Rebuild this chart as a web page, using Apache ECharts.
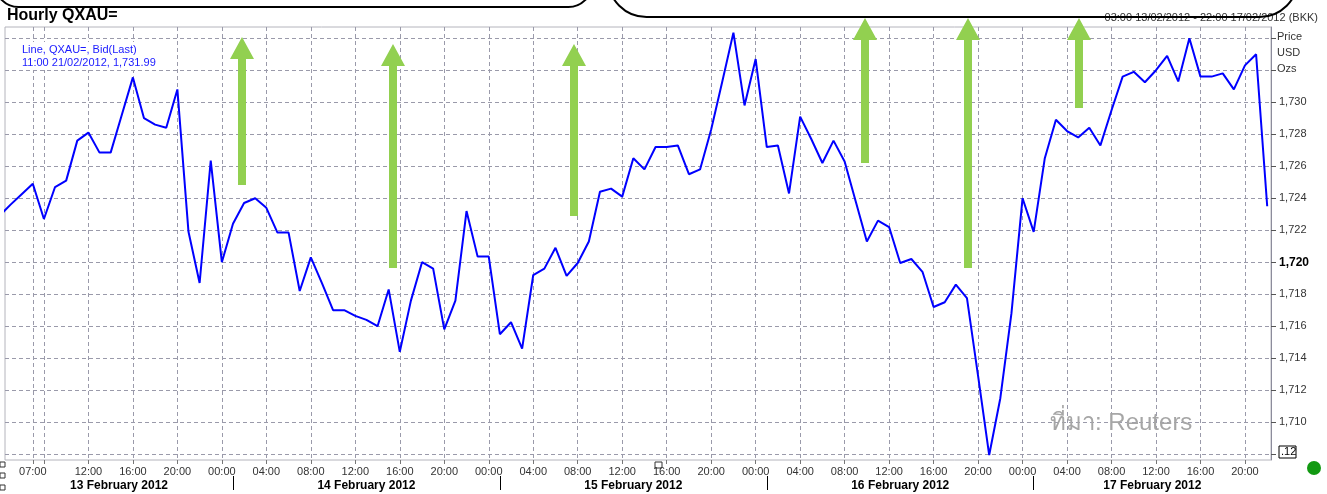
<!DOCTYPE html>
<html>
<head>
<meta charset="utf-8">
<title>Hourly QXAU=</title>
<script src="https://cdn.jsdelivr.net/npm/echarts@6.0.0/dist/echarts.min.js"></script>
<style>
  html, body { margin: 0; padding: 0; background: #fff; }
  #chart { width: 1327px; height: 494px; }
</style>
</head>
<body>
<div id="chart"></div>
<script>
// hourly bid prices, x = hours since 13/02/2012 00:00 (BKK)
const firstHour = 4;
const feb13 = [1722.9, 1723.6, 1724.25, 1724.9, 1722.7, 1724.7, 1725.1, 1727.6, 1728.1, 1726.85,
  1726.85, 1729.2, 1731.55, 1729.0, 1728.6, 1728.4, 1730.8, 1721.9, 1718.7, 1726.35];
const feb14 = [1720.0, 1722.4, 1723.7, 1724.0, 1723.4, 1721.85, 1721.85, 1718.2, 1720.3, 1718.7,
  1717.0, 1717.0, 1716.65, 1716.4, 1716.0, 1718.3, 1714.4, 1717.6, 1720.0, 1719.6,
  1715.8, 1717.6, 1723.2, 1720.35];
const feb15 = [1720.35, 1715.5, 1716.25, 1714.6, 1719.2, 1719.6, 1720.9, 1719.15, 1719.95, 1721.3,
  1724.4, 1724.6, 1724.1, 1726.5, 1725.8, 1727.2, 1727.2, 1727.3, 1725.5, 1725.8,
  1728.3, 1731.3, 1734.35, 1729.8];
const feb16 = [1732.7, 1727.2, 1727.3, 1724.3, 1729.1, 1727.7, 1726.2, 1727.6, 1726.3, 1723.8,
  1721.3, 1722.6, 1722.2, 1719.95, 1720.2, 1719.4, 1717.2, 1717.5, 1718.6, 1717.75,
  1712.9, 1707.95, 1711.5, 1716.8];
const feb17 = [1724.0, 1721.9, 1726.5, 1728.9, 1728.2, 1727.8, 1728.4, 1727.3, 1729.5, 1731.6,
  1731.9, 1731.25, 1732.0, 1732.9, 1731.3, 1734.0, 1731.6, 1731.6, 1731.8, 1730.8,
  1732.3, 1733.0, 1723.5];

const dayLabels = ['13 February 2012', '14 February 2012', '15 February 2012', '16 February 2012', '17 February 2012'];
const daySeparators = [25, 49, 73, 97];
const dayLabelPos = [14.75, 37, 61, 85, 107.67];

// hour ticks: 07:00 and 08:00 on the first day, then every 4 hours
const hourTicks = [7, 8];
const hourLabels = [7];
for (let h = 12; h <= 116; h += 4) { hourTicks.push(h); hourLabels.push(h); }

const priceTicks = [];
for (let p = 1708; p <= 1734; p += 2) priceTicks.push(p);
const priceLabels = [1710, 1712, 1714, 1716, 1718, 1720, 1722, 1724, 1726, 1728, 1730];

const prices = feb13.concat(feb14, feb15, feb16, feb17);
const seriesData = prices.map((v, i) => [firstHour + i, v]);

const FONT = '"Liberation Sans", Arial, sans-serif';
const xMin = 4.5, xMax = 118.34;

function pad(n) { return (n < 10 ? '0' : '') + n; }
function fmtPrice(v) {
  const s = String(Math.round(v));
  return s.slice(0, s.length - 3) + ',' + s.slice(-3);
}

// green up-arrows drawn over the plot
const arrows = [[242, 37, 185], [393, 44, 268], [574, 44, 216], [865, 18, 163], [968, 18, 268], [1079, 18, 108]];
function upArrow(a) {
  const cx = a[0], tip = a[1], bottom = a[2];
  const hw = 12, sw = 4, hh = 22;
  return {
    type: 'polygon', z: 20,
    shape: { points: [[cx, tip], [cx + hw, tip + hh], [cx + sw, tip + hh], [cx + sw, bottom],
      [cx - sw, bottom], [cx - sw, tip + hh], [cx - hw, tip + hh]] },
    style: { fill: '#92d050' }
  };
}

const chart = echarts.init(document.getElementById('chart'), null, { renderer: 'canvas' });

const option = {
  animation: false,
  backgroundColor: '#fff',
  grid: { left: 5, right: 56, top: 27, bottom: 34, show: true, borderColor: '#b4b4bc', borderWidth: 1 },
  xAxis: [
    {
      type: 'value', min: xMin, max: xMax, position: 'bottom',
      axisLine: { show: false },
      axisTick: { show: true, customValues: hourTicks, length: 4, lineStyle: { color: '#777' } },
      axisLabel: {
        customValues: hourLabels, margin: 6, color: '#333', fontSize: 11, fontFamily: FONT,
        formatter: v => pad(Math.round(v) % 24) + ':00'
      },
      splitLine: { show: true, lineStyle: { color: '#9a9aaa', type: [4, 3], width: 1 } }
    },
    {
      type: 'value', min: xMin, max: xMax, position: 'bottom', offset: 16,
      axisLine: { show: false },
      axisTick: { show: true, customValues: daySeparators, length: 14, lineStyle: { color: '#000' } },
      axisLabel: {
        customValues: dayLabelPos, margin: 4, color: '#000', fontSize: 12, fontWeight: 'bold', fontFamily: FONT,
        formatter: v => dayLabels[Math.floor(v / 24)]
      },
      splitLine: { show: false }
    }
  ],
  yAxis: {
    type: 'value', position: 'right', min: 1707.64, max: 1734.7, scale: true,
    axisLine: { show: true, lineStyle: { color: '#8c8c9c' } },
    axisTick: { show: true, customValues: priceTicks, length: 5, lineStyle: { color: '#555' } },
    axisLabel: {
      customValues: priceLabels, margin: 8, color: '#333', fontSize: 11, fontFamily: FONT,
      formatter: v => (v === 1720 ? '{b|' + fmtPrice(v) + '}' : fmtPrice(v)),
      rich: { b: { fontWeight: 'bold', fontSize: 12, color: '#000', fontFamily: FONT } }
    },
    splitLine: { show: true, lineStyle: { color: '#9a9aaa', type: [4, 3], width: 1 } }
  },
  series: [{
    type: 'line', data: seriesData, symbol: 'none', clip: true, z: 5,
    lineStyle: { color: '#0000ff', width: 2 }
  }],
  graphic: [
    { type: 'text', x: 7, y: 16, style: { text: 'Hourly QXAU=', fill: '#000', font: 'bold 16px ' + FONT, verticalAlign: 'middle' } },
    { type: 'text', x: 1318, y: 18, style: { text: '03:00 13/02/2012 - 22:00 17/02/2012 (BKK)', fill: '#333', font: '11px ' + FONT, align: 'right', verticalAlign: 'middle' } },
    { type: 'rect', z: 30, shape: { x: -5, y: -40, width: 597, height: 47, r: 30 }, style: { fill: 'none', stroke: '#000', lineWidth: 2 } },
    { type: 'rect', z: 30, shape: { x: 608, y: -60, width: 690, height: 77, r: 40 }, style: { fill: 'none', stroke: '#000', lineWidth: 2 } },
    { type: 'rect', z: 9, shape: { x: 18, y: 42, width: 148, height: 28 }, style: { fill: '#fff' } },
    { type: 'text', x: 22, y: 50, z: 10, style: { text: 'Line, QXAU=, Bid(Last)', fill: '#1a1aff', font: '11px ' + FONT, verticalAlign: 'middle' } },
    { type: 'text', x: 22, y: 63, z: 10, style: { text: '11:00 21/02/2012, 1,731.99', fill: '#1a1aff', font: '11px ' + FONT, verticalAlign: 'middle' } },
    { type: 'text', x: 1277, y: 37, style: { text: 'Price', fill: '#333', font: '11px ' + FONT, verticalAlign: 'middle' } },
    { type: 'text', x: 1277, y: 53, style: { text: 'USD', fill: '#333', font: '11px ' + FONT, verticalAlign: 'middle' } },
    { type: 'text', x: 1277, y: 69, style: { text: 'Ozs', fill: '#333', font: '11px ' + FONT, verticalAlign: 'middle' } },
    { type: 'rect', shape: { x: 1279, y: 446, width: 17, height: 12 }, style: { fill: '#fff', stroke: '#000', lineWidth: 1 } },
    { type: 'text', x: 1281, y: 452, style: { text: '.12', fill: '#000', font: '11px ' + FONT, verticalAlign: 'middle' } },
    { type: 'text', x: 1050, y: 423, z: 10, style: { text: 'ที่มา: Reuters', fill: '#a6a6a6', font: '24px ' + FONT, verticalAlign: 'middle' } },
    { type: 'rect', shape: { x: 0, y: 462, width: 5, height: 5 }, style: { fill: 'none', stroke: '#333', lineWidth: 1 } },
    { type: 'rect', shape: { x: 0, y: 473, width: 5, height: 5 }, style: { fill: 'none', stroke: '#333', lineWidth: 1 } },
    { type: 'rect', shape: { x: 0, y: 485, width: 5, height: 5 }, style: { fill: 'none', stroke: '#333', lineWidth: 1 } },
    { type: 'rect', shape: { x: 655, y: 462, width: 7, height: 6 }, style: { fill: 'none', stroke: '#333', lineWidth: 1 } },
    { type: 'circle', shape: { cx: 1314, cy: 468, r: 7 }, style: { fill: '#129912' } }
  ].concat(arrows.map(upArrow))
};

chart.setOption(option);
</script>
</body>
</html>
